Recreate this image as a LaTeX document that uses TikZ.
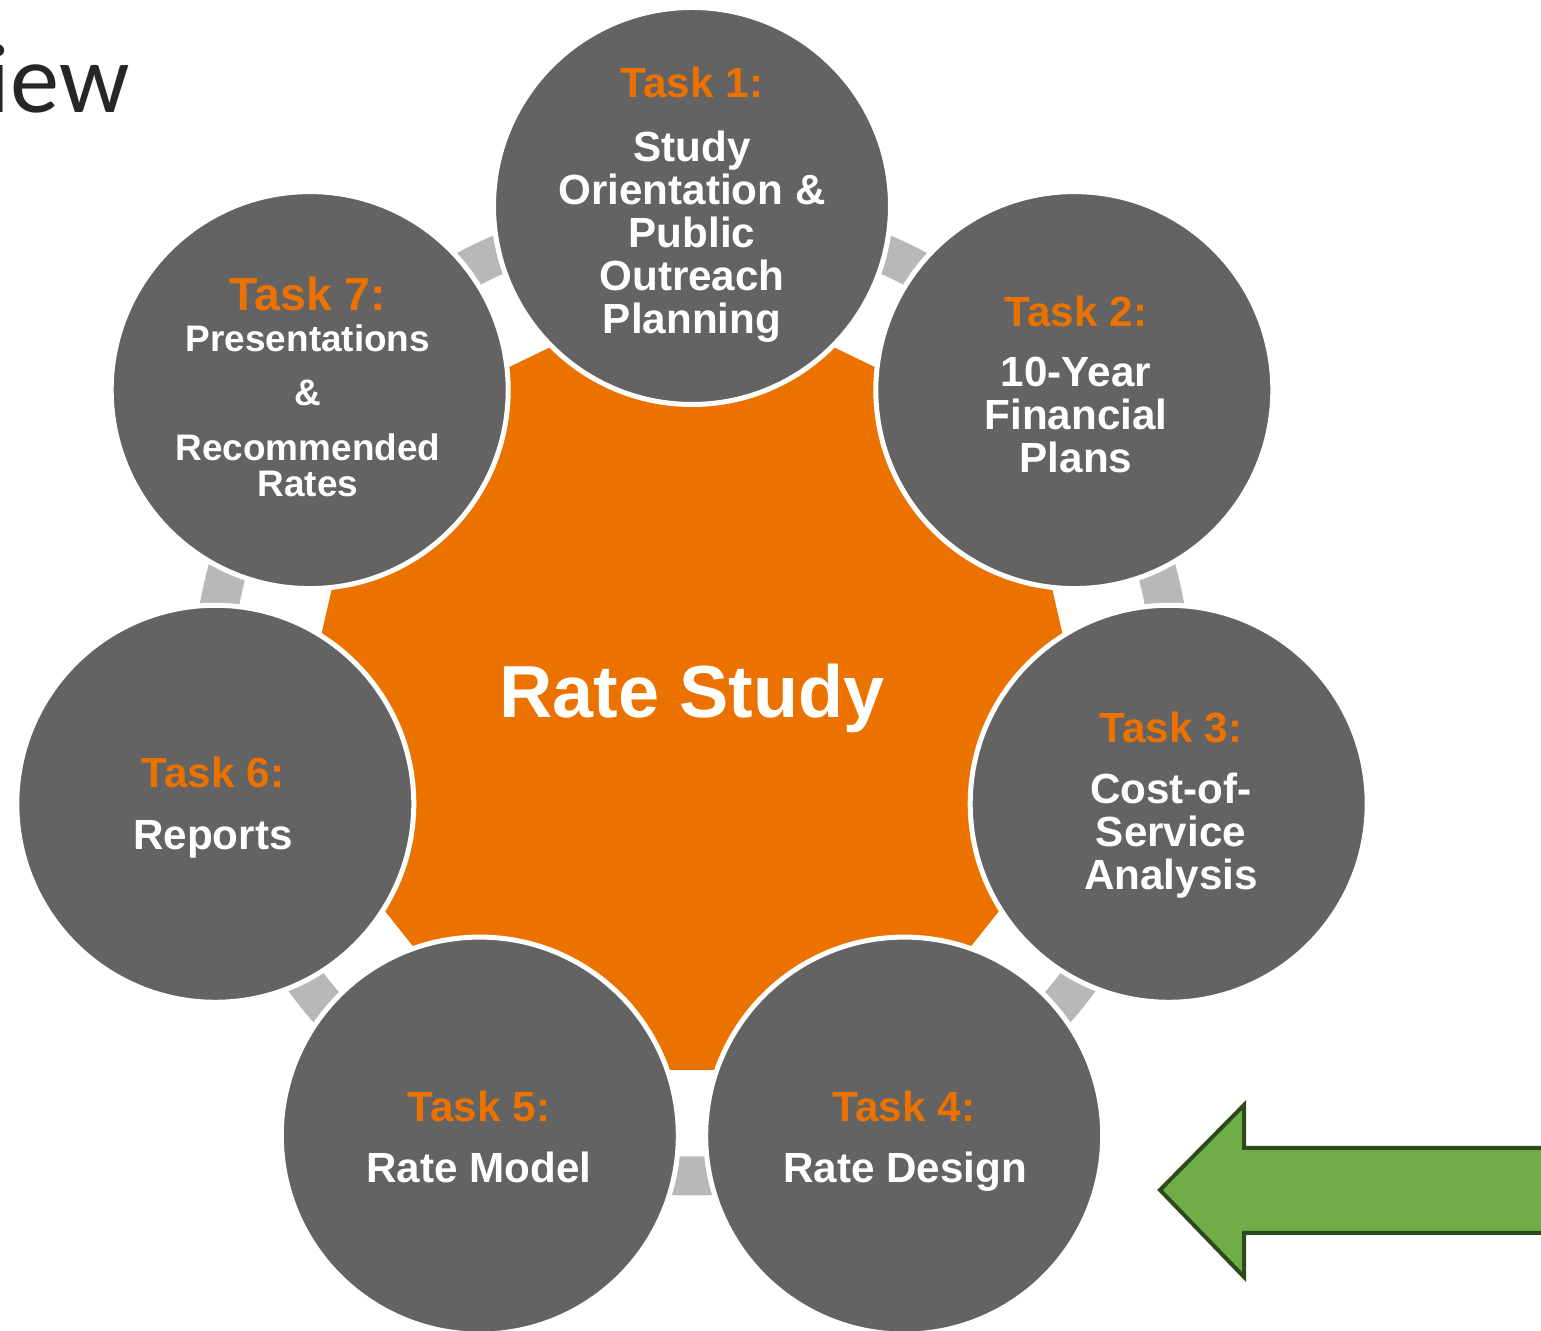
\documentclass[tikz,border=0pt]{standalone}
\usepackage{fontspec}
\setmainfont{Liberation Sans}
\newfontfamily\slidefont{Carlito}
\definecolor{rsorange}{RGB}{236,114,0}
\definecolor{taskgray}{RGB}{99,99,99}
\definecolor{ringgray}{RGB}{184,184,184}
\definecolor{arrowgreen}{RGB}{112,173,71}
\definecolor{arrowedge}{RGB}{46,74,28}
\definecolor{titlegray}{RGB}{38,38,38}
\tikzset{
  taskcirc/.style={shape=circle, draw=white, fill=taskgray, line width=0.05cm,
    minimum size=3.97cm, inner sep=0pt},
  tasklbl/.style={anchor=base, inner sep=0pt, text=rsorange,
    font=\fontsize{12}{12.3}\selectfont\bfseries},
  tasktxt/.style={anchor=base, inner sep=0pt, text=white, align=center,
    font=\fontsize{12}{12.3}\selectfont\bfseries},
}
\begin{document}
\begin{tikzpicture}
\useasboundingbox (0,0) rectangle (15.41,13.31);
\coordinate (c) at (6.92,6.36);

% grey ring, shows only in the gaps
\draw[ringgray, line width=0.39cm] (c) circle[radius=4.81];

% orange heptagon
\begin{scope}[shift={(c)}]
\fill[rsorange] (90:4.16) -- (38.571:4.16) -- (-12.857:4.16) -- (-64.286:4.16)
  -- (-115.714:4.16) -- (-167.143:4.16) -- (141.429:4.16) -- cycle;
\end{scope}

\node[text=white, anchor=base, inner sep=0pt,
  font=\fontsize{21}{24}\selectfont\bfseries] at (6.92,6.13)
(rs) {Rate Study};

% tasks
\node[taskcirc] at (6.920,11.250) (t1) {};
\node[taskcirc] at (10.743,9.409) (t2) {};
\node[taskcirc] at (11.687,5.272) (t3) {};
\node[taskcirc] at (9.042,1.954) (t4) {};
\node[taskcirc] at (4.798,1.954) (t5) {};
\node[taskcirc] at (2.153,5.272) (t6) {};
\node[taskcirc] at (3.097,9.409) (t7) {};

% base of a text block = its last line
\node[tasklbl] at (6.92,12.33) (l1) {Task 1:};
\node[tasktxt] at (6.92,9.97) (x1)
  {Study\\Orientation \&\\Public\\Outreach\\Planning};

\node[tasklbl] at (10.76,10.04) (l2) {Task 2:};
\node[tasktxt] at (10.76,8.58) (x2) {10-Year\\Financial\\Plans};

\node[tasklbl] at (11.71,5.88) (l3) {Task 3:};
\node[tasktxt] at (11.71,4.41) (x3) {Cost-of-\\Service\\Analysis};

\node[tasklbl] at (9.04,2.09) (l4) {Task 4:};
\node[tasktxt] at (9.05,1.48) (x4) {Rate Design};

\node[tasklbl] at (4.79,2.09) (l5) {Task 5:};
\node[tasktxt] at (4.79,1.48) (x5) {Rate Model};

\node[tasklbl] at (2.13,5.43) (l6) {Task 6:};
\node[tasktxt] at (2.13,4.81) (x6) {Reports};

\node[tasklbl, font=\fontsize{13.2}{14}\selectfont\bfseries] at (3.08,10.20)
(l7) {Task 7:};
\node[tasktxt, font=\fontsize{10.5}{10.5}\selectfont\bfseries] at (3.08,8.34)
(x7) {Presentations\\[4.9pt]\&\\[4.9pt]Recommended\\Rates};

% title remnant
\node[anchor=base east, inner sep=0pt, text=titlegray,
  font=\slidefont\fontsize{28}{30}\selectfont] at (1.30,12.18) (ttl) {iew};

% green arrow
\draw[fill=arrowgreen, draw=arrowedge, line width=0.04cm, line join=miter]
  (11.60,1.41) coordinate (tip) -- (12.44,2.26) -- (12.44,1.83) -- (15.70,1.83)
  -- (15.70,0.98) -- (12.44,0.98) -- (12.44,0.54) -- cycle;
\end{tikzpicture}
\end{document}
